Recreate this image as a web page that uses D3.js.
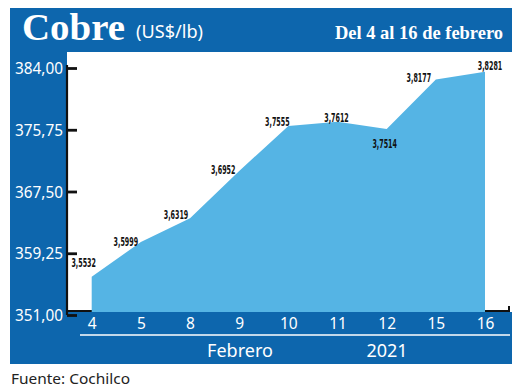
<!DOCTYPE html>
<html><head><meta charset="utf-8">
<script src="https://cdn.jsdelivr.net/npm/d3@7"></script>
<style>html,body{margin:0;padding:0;background:#fff;}svg{display:block;}</style>
</head><body>
<svg id="chart" width="520" height="391"></svg>
<script>
// ---- data ----
const days = ["4","5","8","9","10","11","12","15","16"];
const prices = [3.5532, 3.5999, 3.6319, 3.6952, 3.7555, 3.7612, 3.7514, 3.8177, 3.8281];
const yTicks = [351.00, 359.25, 367.50, 375.75, 384.00];
const title = "Cobre";
const unit = "(US$/lb)";
const period = "Del 4 al 16 de febrero";
const monthLabel = "Febrero";
const yearLabel = "2021";
const source = "Fuente: Cochilco";

// ---- layout ----
const BLUE = "#0d66ad", FILL = "#55b4e4";
const svg = d3.select("#chart");
const frame = {l:10, r:512, t:8, b:364};
const plot = {l:67, top:52, bandTop:312};

const x = d3.scalePoint().domain(days).range([91.7, 485]);
const yAxisScale = d3.scaleLinear().domain([351, 384]).range([315, 68]);
const yData = d3.scaleLinear().domain([351, 384]).range([309, 63]);

// frame bands
svg.append("rect").attr("x",frame.l).attr("y",frame.t).attr("width",frame.r-frame.l).attr("height",plot.top-frame.t).attr("fill",BLUE);
svg.append("rect").attr("x",frame.l).attr("y",plot.top-1).attr("width",plot.l-frame.l).attr("height",frame.b-plot.top+1).attr("fill",BLUE);

// x axis baseline (mostly hidden)
svg.append("path").attr("d",`M${plot.l},311 H509 V306`).attr("fill","none").attr("stroke","#111").attr("stroke-width",2);

// area
const pts = days.map((d,i)=>({d, v:prices[i]*100}));
const area = d3.area().x(p=>x(p.d)).y0(plot.bandTop).y1(p=>yData(p.v)).curve(d3.curveLinear);
svg.append("path").datum(pts).attr("d",area).attr("fill",FILL);

// bottom band
svg.append("rect").attr("x",plot.l).attr("y",plot.bandTop).attr("width",frame.r-plot.l).attr("height",frame.b-plot.bandTop).attr("fill",BLUE);

// y axis
const yAxis = d3.axisRight(yAxisScale).tickValues(yTicks).tickSize(10).tickFormat("");
const ya = svg.append("g").attr("transform",`translate(${plot.l},0)`).call(yAxis);
ya.select(".domain").attr("stroke","#111").attr("stroke-width",2.2).attr("d",`M0,65 V${yAxisScale(351)}`);
ya.selectAll(".tick line").attr("stroke","#111").attr("stroke-width",2.8);
svg.append("g").selectAll("text").data(yTicks).join("text")
  .attr("x",63).attr("y",t=>yAxisScale(t)+6)
  .attr("text-anchor","end").attr("fill","#fff")
  .attr("font-family","'Noto Sans',sans-serif").attr("font-size",16.5)
  .attr("textLength",48).attr("lengthAdjust","spacingAndGlyphs")
  .text(t=>d3.format(".2f")(t).replace(".",","));

// x tick labels
const xAxis = d3.axisBottom(x).tickSize(0).tickPadding(0);
const xa = svg.append("g").attr("transform","translate(0,318)").call(xAxis);
xa.select(".domain").remove();
xa.selectAll("text").attr("fill","#fff").attr("font-family","'Noto Sans',sans-serif").attr("font-size",15.5).attr("dy","0.71em").attr("y",0);

svg.append("line").attr("x1",80).attr("x2",510).attr("y1",335).attr("y2",335).attr("stroke","#fff").attr("stroke-width",1.5);
svg.append("text").attr("x",240).attr("y",357).attr("text-anchor","middle").attr("fill","#fff")
  .attr("font-family","'Noto Sans',sans-serif").attr("font-size",18).text(monthLabel);
svg.append("text").attr("x",387).attr("y",357).attr("text-anchor","middle").attr("fill","#fff")
  .attr("font-family","'Noto Sans',sans-serif").attr("font-size",18).text(yearLabel);

// data labels
const labelOffsets = [[-8,-14],[-15,0],[-14,-4],[-16,-1],[-11,-4],[-1,-4],[-2,14],[-17,-2],[5,-6]];
svg.append("g").selectAll("text").data(pts).join("text")
  .attr("x",(p,i)=>x(p.d)+labelOffsets[i][0])
  .attr("y",(p,i)=>yData(p.v)+labelOffsets[i][1]+4.5)
  .attr("text-anchor","middle").attr("fill","#111")
  .attr("font-family","'Liberation Sans Narrow','DejaVu Sans Condensed','Liberation Sans',sans-serif")
  .attr("font-weight","bold").attr("font-size",12.5)
  .attr("textLength",24.5).attr("lengthAdjust","spacingAndGlyphs")
  .text((p,i)=>String(prices[i].toFixed(4)).replace(".",","));

// titles
svg.append("text").attr("x",22).attr("y",40).attr("fill","#fff")
  .attr("font-family","'Liberation Serif','DejaVu Serif',serif").attr("font-weight","bold").attr("font-size",38)
  .attr("textLength",103).attr("lengthAdjust","spacingAndGlyphs").text(title);
svg.append("text").attr("x",136).attr("y",38).attr("fill","#fff")
  .attr("font-family","'Noto Sans',sans-serif").attr("font-size",18)
  .attr("textLength",67).attr("lengthAdjust","spacingAndGlyphs").text(unit);
svg.append("text").attr("x",335).attr("y",39).attr("fill","#fff")
  .attr("font-family","'Liberation Serif','DejaVu Serif',serif").attr("font-weight","bold").attr("font-size",19)
  .attr("textLength",168).attr("lengthAdjust","spacingAndGlyphs").text(period);

// source
svg.append("text").attr("x",11).attr("y",384).attr("fill","#222")
  .attr("font-family","'Noto Sans',sans-serif").attr("font-size",15)
  .attr("textLength",119).attr("lengthAdjust","spacingAndGlyphs").text(source);
</script>
</body></html>
